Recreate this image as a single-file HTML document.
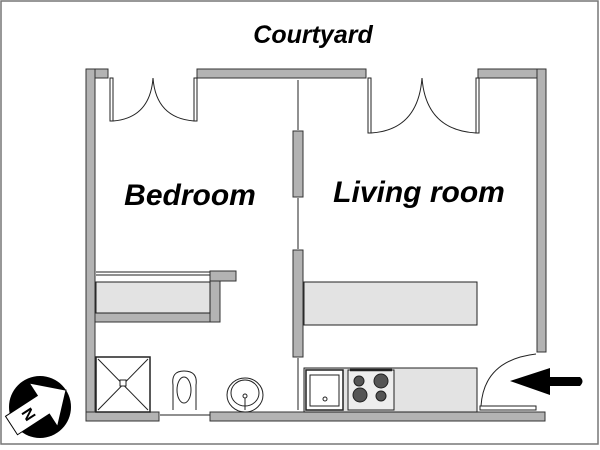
<!DOCTYPE html>
<html><head><style>body{margin:0;background:#fff}svg{display:block}</style></head><body>
<svg width="600" height="450" xmlns="http://www.w3.org/2000/svg" font-family="Liberation Sans, sans-serif">
<rect x="1" y="1" width="597" height="443" fill="#fff" stroke="#777" stroke-width="1.5"/>
<text x="313" y="43" font-size="25" font-weight="bold" font-style="italic" text-anchor="middle">Courtyard</text>
<text x="190" y="205" font-size="30" font-weight="bold" font-style="italic" text-anchor="middle">Bedroom</text>
<text x="419" y="202" font-size="30" font-weight="bold" font-style="italic" text-anchor="middle">Living room</text>
<g fill="#b3b3b3" stroke="#333" stroke-width="1">
<rect x="86" y="69" width="22" height="9"/>
<rect x="197" y="69" width="169" height="9"/>
<rect x="478" y="69" width="68" height="9"/>
<rect x="86" y="69" width="9" height="352"/>
<rect x="537" y="69" width="9" height="283"/>
<rect x="86" y="412" width="73" height="9"/>
<rect x="210" y="412" width="335" height="9"/>
<rect x="293" y="131" width="10" height="66"/>
<rect x="293" y="250" width="10" height="107"/>
<rect x="95" y="313" width="125" height="9"/>
<rect x="210" y="272" width="10" height="50"/>
<rect x="210" y="271" width="26" height="10"/>
</g>
<g fill="none" stroke="#222" stroke-width="1">
<rect x="110" y="78" width="3" height="43" fill="#fff"/>
<rect x="194" y="78" width="3" height="43" fill="#fff"/>
<path d="M113 121 Q150 118 153 78 Q156 118 194 121"/>
<rect x="368" y="78" width="3" height="55" fill="#fff"/>
<rect x="476" y="78" width="3" height="55" fill="#fff"/>
<path d="M371 133 Q418 130 422 78 Q426 130 476 133"/>
<line x1="298" y1="80" x2="298" y2="130"/>
<line x1="298" y1="198" x2="298" y2="249"/>
<line x1="298" y1="358" x2="298" y2="410"/>
<line x1="160" y1="415" x2="210" y2="415"/>
<line x1="96" y1="272" x2="210" y2="272"/>
<line x1="96" y1="275" x2="210" y2="275"/>
<rect x="96" y="282" width="114" height="31" fill="#e3e3e3"/>
<rect x="96" y="357" width="54" height="55" fill="#fff" stroke-width="1.5"/>
<path d="M98 359 L148 410 M148 359 L98 410"/>
<rect x="120" y="380" width="6" height="6" fill="#fff"/>
<path d="M173 410 L173 385 Q171 371 184 371 Q198 371 196 385 L196 410"/>
<ellipse cx="184" cy="390" rx="7" ry="13"/>
<ellipse cx="245" cy="395" rx="18" ry="17"/>
<ellipse cx="245" cy="393" rx="14" ry="13"/>
<circle cx="245" cy="396" r="2"/>
<line x1="245" y1="398" x2="245" y2="410"/>
<rect x="304" y="282" width="173" height="43" fill="#e3e3e3"/>
<rect x="304" y="368" width="173" height="44" fill="#e3e3e3"/>
<rect x="306" y="370" width="37" height="40" fill="#fff" stroke-width="1.5"/>
<rect x="310" y="375" width="29" height="31" fill="#fff"/>
<circle cx="325" cy="399" r="2"/>
<rect x="348" y="370" width="46" height="40" fill="#eee"/>
<line x1="350" y1="370" x2="392" y2="370" stroke-width="2.5"/>
<circle cx="359" cy="381" r="5" fill="#555"/>
<circle cx="381" cy="381" r="7" fill="#555"/>
<circle cx="360" cy="395" r="7" fill="#555"/>
<circle cx="381" cy="396" r="5" fill="#555"/>
<rect x="480" y="406" width="56" height="4" fill="#fff"/>
<path d="M481 406 Q484 360 536 354"/>
</g>
<path d="M510 381 L550 368 L550 377 L580 377 Q585 381 580 386 L550 386 L550 395 Z" fill="#000"/>
<circle cx="40" cy="407" r="31" fill="#000"/>
<g transform="translate(40 407) rotate(-33)">
<path d="M-34 -11 L4 -11 L4 -26 L31 0 L4 26 L4 11 L-34 11 Z" fill="#fff" stroke="#000" stroke-width="1"/>
<text x="-13" y="6" font-size="16" font-weight="bold" transform="rotate(90 -13 0)" text-anchor="middle">N</text>
</g>
</svg>
</body></html>
